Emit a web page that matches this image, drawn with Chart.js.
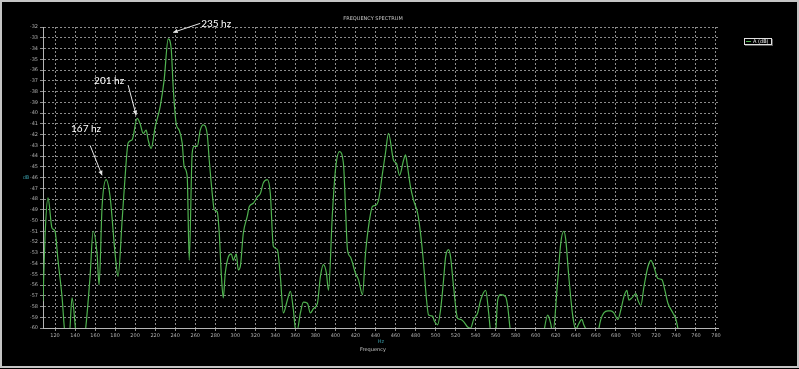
<!DOCTYPE html>
<html lang="en">
<head>
  <meta charset="UTF-8" />
  <title>Frequency Spectrum</title>
  <script src="https://cdn.jsdelivr.net/npm/chart.js"></script>
  <style>
    html, body { margin: 0; padding: 0; background: #000; }
    #wrap { position: relative; width: 799px; height: 369px; }
  </style>
</head>
<body>
  <div id="wrap"><canvas id="spectrum"></canvas></div>

  <script>
    // spectrum (Hz, dB)
    const freqs = [
      108, 110, 113, 117, 120, 123, 127, 130, 134, 137, 141, 145, 150, 155, 158, 162, 164, 167, 171, 175,
      180, 183, 187, 190, 193, 197, 202, 205, 208, 211, 213, 216, 220, 225, 229, 233, 236, 238, 241, 244,
      247, 249, 252, 254, 257, 259, 262, 265, 268, 272, 274, 277, 279, 282, 284, 286, 288, 290, 293, 296,
      298, 301, 303, 305, 308, 312, 314, 318, 322, 325, 328, 332, 335, 338, 342, 345, 348, 352, 355, 358,
      360, 362, 365, 368, 372, 375, 378, 382, 385, 388, 391, 393, 397, 400, 404, 408, 410, 412, 415, 420,
      423, 427, 430, 433, 437, 440, 443, 447, 450, 453, 458, 461, 464, 468, 470, 472, 475, 478, 482, 485,
      488, 491, 493, 497, 499, 502, 505, 508, 510, 513, 515, 518, 522, 525, 528, 532, 535, 538, 542, 545,
      550, 553, 555, 558, 560, 562, 565, 570, 572, 575, 590, 605, 608, 612, 615, 617, 622, 625, 628, 630,
      633, 637, 640, 643, 646, 648, 652, 657, 662, 665, 668, 672, 675, 678, 682, 685, 688, 691, 693, 696,
      700, 702, 705, 708, 712, 715, 718, 722, 726, 729, 732, 737, 740, 743, 750, 782
    ];
    const levels = [
      -57.5, -51.5, -47.9, -50.7, -51.0, -53.7, -57.1, -60.5, -61.0, -57.2, -60.5, -62.0, -60.5, -55.2, -51.0, -53.1, -56.0, -48.7, -46.2, -47.8,
      -53.1, -55.2, -50.0, -45.9, -42.8, -42.5, -40.5, -41.0, -41.9, -41.6, -42.5, -43.3, -41.3, -39.4, -36.9, -33.1, -34.0, -37.6, -41.0, -41.6,
      -42.8, -45.0, -45.9, -53.7, -43.7, -43.1, -43.1, -41.6, -41.1, -42.0, -44.4, -47.5, -49.0, -49.2, -51.2, -54.9, -57.2, -54.9, -53.4, -53.1,
      -53.7, -53.1, -54.6, -54.3, -51.2, -49.6, -48.7, -48.4, -47.8, -47.5, -46.5, -46.2, -47.5, -52.4, -52.7, -55.2, -58.6, -57.4, -56.6, -58.3,
      -60.0, -60.1, -58.6, -57.6, -57.7, -58.6, -58.2, -57.7, -55.2, -54.1, -54.9, -56.5, -49.3, -45.3, -43.6, -44.7, -48.7, -52.7, -53.4, -54.9,
      -55.5, -56.9, -53.1, -50.6, -48.7, -48.6, -48.1, -45.6, -43.7, -41.9, -44.4, -44.7, -45.8, -44.4, -43.9, -45.0, -46.9, -48.1, -49.3, -51.2,
      -54.0, -57.4, -58.8, -58.9, -59.4, -59.7, -58.3, -55.5, -53.4, -52.7, -53.4, -56.2, -59.1, -59.2, -59.4, -59.9, -60.0, -59.2, -58.6, -57.4,
      -56.5, -58.6, -60.5, -62.0, -60.5, -57.4, -56.9, -57.1, -58.0, -60.5, -63.0, -63.0, -60.5, -58.8, -59.6, -60.5, -55.5, -52.1, -51.0, -51.8,
      -55.2, -58.9, -60.1, -59.6, -59.2, -59.7, -60.5, -62.0, -60.5, -59.2, -58.6, -58.4, -58.4, -58.6, -59.2, -58.3, -57.1, -56.5, -57.4, -57.2,
      -56.8, -57.4, -57.9, -56.2, -54.3, -53.7, -54.3, -55.4, -55.5, -56.5, -57.7, -58.6, -59.2, -60.5, -63.0, -63.0
    ];

    const xTicks = [120, 140, 160, 180, 200, 220, 240, 260, 280, 300, 320, 340, 360, 380, 400, 420, 440, 460,
                    480, 500, 520, 540, 560, 580, 600, 620, 640, 660, 680, 700, 720, 740, 760, 780];
    const yTicks = [-32, -33, -34, -35, -36, -37, -38, -39, -40, -41, -42, -43, -44, -45, -46, -47,
                    -48, -49, -50, -51, -52, -53, -54, -55, -56, -57, -58, -59, -60];

    // callouts: arrow tip sits on the data, tail/label offsets in px
    const peakNotes = [
      { text: "235 hz", hz: 238, db: -32.5, tail: [27, -9], label: [43, -9] },
      { text: "201 hz", hz: 201, db: -40.2, tail: [-8, -30], label: [-27, -34] },
      { text: "167 hz", hz: 167, db: -45.8, tail: [-12, -30], label: [-16, -47] }
    ];

    const lineGreen = "#4fb24f";

    const decor = {
      id: "decor",
      beforeDraw(chart) {
        const ctx = chart.ctx;
        ctx.save();
        ctx.fillStyle = "#000";
        ctx.fillRect(0, 0, chart.width, chart.height);
        ctx.restore();
      },
      afterDraw(chart) {
        const ctx = chart.ctx;
        const x = chart.scales.x, y = chart.scales.y;
        ctx.save();

        // outer frame
        ctx.strokeStyle = "#c4c4c4";
        ctx.lineWidth = 2;
        ctx.strokeRect(1, 1, chart.width - 2, chart.height - 3);

        // title + axis names
        ctx.textAlign = "center";
        ctx.textBaseline = "middle";
        ctx.fillStyle = "#c8c8c8";
        ctx.font = "5px 'DejaVu Sans'";
        ctx.fillText("FREQUENCY SPECTRUM", 373, 19);
        ctx.fillText("Frequency", 373, 350);
        ctx.fillStyle = "#3a9aa6";
        ctx.fillText("Hz", 381, 342);
        ctx.fillText("dB", 26, 178);

        // legend
        ctx.fillStyle = "#555";
        ctx.fillRect(745, 39, 28, 7);
        ctx.fillStyle = "#000";
        ctx.fillRect(744, 38, 28, 7);
        ctx.strokeStyle = "#e0e0e0";
        ctx.lineWidth = 1;
        ctx.strokeRect(744.5, 38.5, 27, 6);
        ctx.strokeStyle = lineGreen;
        ctx.beginPath();
        ctx.moveTo(746, 41.5);
        ctx.lineTo(751, 41.5);
        ctx.stroke();
        ctx.fillStyle = "#eee";
        ctx.textAlign = "left";
        ctx.font = "5px 'DejaVu Sans'";
        ctx.fillText("A (dB)", 753, 41.5);

        // peak callouts
        ctx.strokeStyle = "#e8e8e8";
        ctx.fillStyle = "#e8e8e8";
        ctx.lineWidth = 1;
        peakNotes.forEach(n => {
          const px = x.getPixelForValue(n.hz);
          const py = y.getPixelForValue(n.db);
          const tx = px + n.tail[0], ty = py + n.tail[1];
          ctx.beginPath();
          ctx.moveTo(tx, ty);
          ctx.lineTo(px, py);
          ctx.stroke();
          const a = Math.atan2(py - ty, px - tx);
          ctx.beginPath();
          ctx.moveTo(px, py);
          ctx.lineTo(px - 5 * Math.cos(a - 0.45), py - 5 * Math.sin(a - 0.45));
          ctx.lineTo(px - 5 * Math.cos(a + 0.45), py - 5 * Math.sin(a + 0.45));
          ctx.closePath();
          ctx.fill();
          ctx.font = "10px Lato";
          ctx.textAlign = "center";
          ctx.fillStyle = "#fff";
          ctx.fillText(n.text, px + n.label[0], py + n.label[1]);
          ctx.fillStyle = "#e8e8e8";
        });
        ctx.restore();
      }
    };

    const points = freqs.map((f, i) => ({ x: f, y: levels[i] }));

    new Chart(document.getElementById("spectrum"), {
      type: "line",
      data: {
        datasets: [{
          label: "A (dB)",
          data: points,
          borderColor: lineGreen,
          borderWidth: 1.2,
          pointRadius: 0,
          cubicInterpolationMode: "monotone",
          fill: false,
          clip: 0
        }]
      },
      options: {
        responsive: true,
        maintainAspectRatio: false,
        animation: false,
        layout: { padding: { top: 27, right: 81, left: 0, bottom: 0 } },
        plugins: {
          legend: { display: false },
          title: { display: false },
          tooltip: { enabled: false }
        },
        scales: {
          x: {
            type: "linear",
            min: 108,
            max: 782,
            afterBuildTicks: s => { s.ticks = xTicks.map(v => ({ value: v })); },
            afterFit: s => { s.height = 41; },
            ticks: { color: "#b0b0b0", font: { size: 5, family: "DejaVu Sans" }, padding: 2, maxRotation: 0, autoSkip: false },
            grid: { color: "rgba(200,200,200,0.7)", tickLength: 3 },
            border: { display: true, color: "#b5b5b5", dash: [2, 2] }
          },
          y: {
            min: -60,
            max: -32,
            afterBuildTicks: s => { s.ticks = yTicks.map(v => ({ value: v })); },
            afterFit: s => { s.width = 43; },
            ticks: { color: "#b0b0b0", font: { size: 5, family: "DejaVu Sans" }, padding: 2, autoSkip: false },
            grid: { color: "rgba(200,200,200,0.7)", tickLength: 3 },
            border: { display: true, color: "#b5b5b5", dash: [2, 2] }
          }
        }
      },
      plugins: [decor]
    });
  </script>
</body>
</html>
